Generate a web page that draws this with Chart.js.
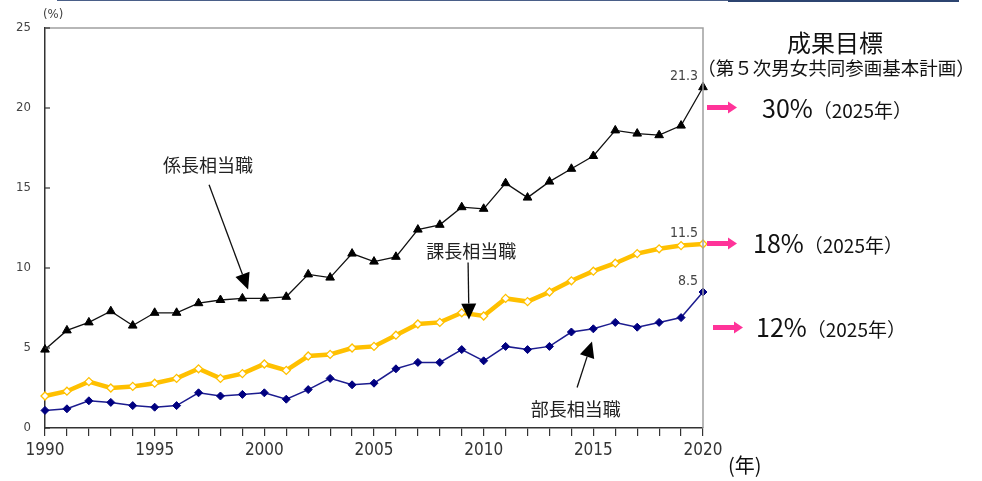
<!DOCTYPE html>
<html><head><meta charset="utf-8">
<script src="https://cdn.jsdelivr.net/npm/chart.js@4"></script>
<style>
body{margin:0;background:#fff;}
#wrap{position:relative;width:982px;height:481px;overflow:hidden;background:#fff;}
canvas{position:absolute;left:0;top:0;}
.t{position:absolute;font-family:"Noto Sans CJK JP","Noto Sans";color:#111;white-space:nowrap;line-height:1;}
.n{position:absolute;font-family:"Liberation Sans Narrow","DejaVu Sans Condensed",sans-serif;color:#444;white-space:nowrap;line-height:1;}
svg{position:absolute;}
</style></head><body>
<div id="wrap">
<div style="position:absolute;left:57px;top:0;width:671px;height:1px;background:#4a5f88"></div>
<div style="position:absolute;left:728px;top:0;width:231px;height:2px;background:#2c4470"></div>
<canvas id="c" width="982" height="481"></canvas>
<div class="n" style="left:43px;top:7px;font-size:13px;">(%)</div>
<div class="t" style="left:835px;top:30px;font-size:24px;transform:translateX(-50%);">成果目標</div>
<div class="t" style="left:836px;top:58px;font-size:18.5px;transform:translateX(-50%);">（第５次男女共同参画基本計画）</div>
<svg style="left:705px;top:100px" width="34" height="15"><polygon points="2,5 23,5 23,1.5 32,7.5 23,13.5 23,10 2,10" fill="#ff3399"/></svg>
<svg style="left:705px;top:236px" width="34" height="15"><polygon points="2,5 23,5 23,1.5 32,7.5 23,13.5 23,10 2,10" fill="#ff3399"/></svg>
<svg style="left:711px;top:320px" width="34" height="15"><polygon points="2,5 23,5 23,1.5 32,7.5 23,13.5 23,10 2,10" fill="#ff3399"/></svg>
<div class="t" style="left:762px;top:95px;font-size:25px;">30%<span style="font-size:19px">（2025年）</span></div>
<div class="t" style="left:753px;top:230px;font-size:25px;">18%<span style="font-size:19px">（2025年）</span></div>
<div class="t" style="left:756px;top:314px;font-size:25px;">12%<span style="font-size:19px">（2025年）</span></div>
<div class="t" style="left:728px;top:455px;font-size:20px;">(年)</div>
</div>
<script>
const years = [1990,1991,1992,1993,1994,1995,1996,1997,1998,1999,2000,2001,2002,2003,2004,2005,2006,2007,2008,2009,2010,2011,2012,2013,2014,2015,2016,2017,2018,2019,2020];
const kakarichoValues = [4.9,6.1,6.6,7.3,6.4,7.2,7.2,7.8,8.0,8.1,8.1,8.2,9.6,9.4,10.9,10.4,10.7,12.4,12.7,13.8,13.7,15.3,14.4,15.4,16.2,17.0,18.6,18.4,18.3,18.9,21.3];
const kachoValues = [2.0,2.3,2.9,2.5,2.6,2.8,3.1,3.7,3.1,3.4,4.0,3.6,4.5,4.6,5.0,5.1,5.8,6.5,6.6,7.2,7.0,8.1,7.9,8.5,9.2,9.8,10.3,10.9,11.2,11.4,11.5];
const buchoValues = [1.1,1.2,1.7,1.6,1.4,1.3,1.4,2.2,2.0,2.1,2.2,1.8,2.4,3.1,2.7,2.8,3.7,4.1,4.1,4.9,4.2,5.1,4.9,5.1,6.0,6.2,6.6,6.3,6.6,6.9,8.5];
const yTicks = [0,5,10,15,20,25];
const seriesNames = ['係長相当職','課長相当職','部長相当職'];
const lastLabels = ['21.3','11.5','8.5'];

// annotation anchors in data units: [xIndex, yValue]
const notes = [
  {text: seriesNames[0], at: [7.43, 16.4], from: [7.48, 15.2], to: [9.26, 8.66]},
  {text: seriesNames[1], at: [19.43, 11.03], from: [19.29, 10.34], to: [19.33, 6.78]},
  {text: seriesNames[2], at: [24.2, 1.16], from: [24.26, 2.53], to: [24.94, 5.41]}
];

const narrow = '"Liberation Sans Narrow","DejaVu Sans Condensed",sans-serif';

const deco = {
  id: 'deco',
  afterDraw(chart) {
    const ctx = chart.ctx, a = chart.chartArea, xs = chart.scales.x, ys = chart.scales.y;
    ctx.save();
    ctx.strokeStyle = '#a0a0a0'; ctx.lineWidth = 1.5;
    ctx.beginPath(); ctx.moveTo(a.left, a.top); ctx.lineTo(a.right, a.top); ctx.lineTo(a.right, a.bottom); ctx.stroke();
    ctx.strokeStyle = '#333'; ctx.lineWidth = 1.2;
    yTicks.forEach(v => { const y = ys.getPixelForValue(v); ctx.beginPath(); ctx.moveTo(a.left, y); ctx.lineTo(a.left + 5, y); ctx.stroke(); });
    ctx.fillStyle = '#222'; ctx.font = '18px "Noto Sans CJK JP"'; ctx.textAlign = 'center'; ctx.textBaseline = 'middle';
    notes.forEach(n => {
      ctx.fillText(n.text, xs.getPixelForValue(n.at[0]), ys.getPixelForValue(n.at[1]));
      const x1 = xs.getPixelForValue(n.from[0]), y1 = ys.getPixelForValue(n.from[1]);
      const x2 = xs.getPixelForValue(n.to[0]), y2 = ys.getPixelForValue(n.to[1]);
      const ang = Math.atan2(y2 - y1, x2 - x1), hl = 16, hw = 7.5;
      const bx = x2 - hl * Math.cos(ang), by = y2 - hl * Math.sin(ang);
      ctx.strokeStyle = '#111'; ctx.lineWidth = 1.3;
      ctx.beginPath(); ctx.moveTo(x1, y1); ctx.lineTo(bx, by); ctx.stroke();
      ctx.fillStyle = '#000';
      ctx.beginPath(); ctx.moveTo(x2, y2);
      ctx.lineTo(bx + hw * Math.sin(ang), by - hw * Math.cos(ang));
      ctx.lineTo(bx - hw * Math.sin(ang), by + hw * Math.cos(ang));
      ctx.closePath(); ctx.fill();
      ctx.fillStyle = '#222';
    });
    ctx.font = '14px ' + narrow; ctx.fillStyle = '#444'; ctx.textAlign = 'right';
    chart.data.datasets.forEach((ds, i) => {
      const meta = chart.getDatasetMeta(i); const p = meta.data[meta.data.length - 1];
      ctx.fillText(lastLabels[i], p.x - 5, p.y - 11);
    });
    ctx.restore();
  }
};

new Chart(document.getElementById('c'), {
  type: 'line',
  data: {
    labels: years,
    datasets: [
      {label: seriesNames[0], data: kakarichoValues, borderColor: '#111', borderWidth: 1.3, pointStyle: 'triangle', pointRadius: 5, pointBackgroundColor: '#000', pointBorderColor: '#000', pointBorderWidth: 1},
      {label: seriesNames[1], data: kachoValues, borderColor: '#FFC000', borderWidth: 4.5, pointStyle: 'rectRot', pointRadius: 4, pointBackgroundColor: '#fff', pointBorderColor: '#FFC000', pointBorderWidth: 1.3},
      {label: seriesNames[2], data: buchoValues, borderColor: '#1c1c8f', borderWidth: 1.5, pointStyle: 'rectRot', pointRadius: 4, pointBackgroundColor: '#000080', pointBorderColor: '#000080', pointBorderWidth: 1}
    ]
  },
  options: {
    responsive: false, animation: false,
    layout: {padding: {left: 0, right: 279, top: 28, bottom: 0}},
    plugins: {legend: {display: false}, tooltip: {enabled: false}},
    elements: {line: {tension: 0}},
    scales: {
      x: {
        type: 'category', offset: false,
        grid: {display: true, drawOnChartArea: false, drawTicks: true, tickLength: 8, color: '#333', lineWidth: 1.2},
        border: {display: true, color: '#333', width: 1.5},
        ticks: {autoSkip: false, maxRotation: 0, minRotation: 0, padding: 4, color: '#333',
          font: {family: narrow, size: 17},
          callback: (v, i) => (years[i] % 5 === 0 ? String(years[i]) : '')},
        afterFit: s => { s.height = 53; }
      },
      y: {
        min: 0, max: 25,
        grid: {display: false, drawTicks: false},
        border: {display: true, color: '#333', width: 1.5},
        ticks: {stepSize: 5, padding: 14, color: '#444', font: {family: narrow, size: 13}},
        afterFit: s => { s.width = 45; }
      }
    }
  },
  plugins: [deco]
});
</script>
</body></html>
